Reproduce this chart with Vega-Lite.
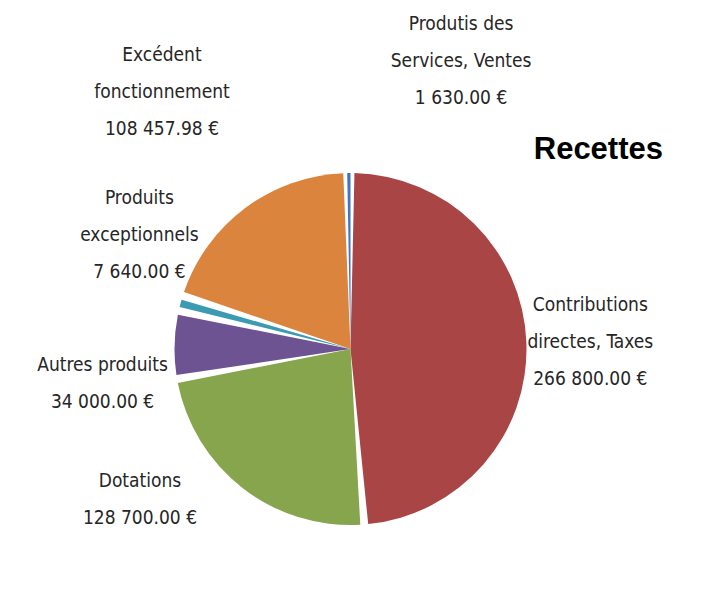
{
  "$schema": "https://vega.github.io/schema/vega-lite/v6.json",
  "autosize": {"type": "none"},
  "width": 691,
  "height": 498,
  "padding": {"left": 5, "top": 100, "right": 20, "bottom": 5},
  "background": "white",
  "title": {
    "text": "Recettes",
    "anchor": "end",
    "frame": "group",
    "orient": "top",
    "font": "Liberation Sans",
    "fontSize": 31,
    "fontWeight": "bold",
    "color": "#000000",
    "baseline": "alphabetic",
    "offset": 4,
    "dx": -33,
    "dy": 200
  },
  "config": {
    "view": {"stroke": null},
    "text": {
      "font": "Liberation Sans Narrow, DejaVu Sans Condensed, sans-serif",
      "fontSize": 19,
      "lineHeight": 37,
      "color": "#262626",
      "align": "center",
      "baseline": "middle",
      "lineBreak": "\n"
    }
  },
  "data": {
    "values": [
      {"rang": 1, "poste": "Contributions directes, Taxes", "montant": 266800, "libelle": "Contributions\ndirectes, Taxes\n266 800.00 €"},
      {"rang": 2, "poste": "Dotations", "montant": 128700, "libelle": "Dotations\n128 700.00 €"},
      {"rang": 3, "poste": "Autres produits", "montant": 34000, "libelle": "Autres produits\n34 000.00 €"},
      {"rang": 4, "poste": "Produits exceptionnels", "montant": 7640, "libelle": "Produits\nexceptionnels\n7 640.00 €"},
      {"rang": 5, "poste": "Excédent fonctionnement", "montant": 108457.98, "libelle": "Excédent\nfonctionnement\n108 457.98 €"},
      {"rang": 6, "poste": "Produtis des Services, Ventes", "montant": 1630, "libelle": "Produtis  des\nServices, Ventes\n1 630.00 €"}
    ]
  },
  "encoding": {
    "theta": {"field": "montant", "type": "quantitative", "stack": true},
    "order": {"field": "rang", "type": "quantitative"}
  },
  "layer": [
    {
      "mark": {"type": "arc", "radius": 176, "padAngle": 0.045},
      "encoding": {
        "color": {
          "field": "poste",
          "type": "nominal",
          "legend": null,
          "scale": {
            "domain": ["Contributions directes, Taxes", "Dotations", "Autres produits", "Produits exceptionnels", "Excédent fonctionnement", "Produtis des Services, Ventes"],
            "range": ["#A94544", "#87A54C", "#6E5393", "#3B9BB2", "#DB843D", "#4473C0"]
          }
        }
      }
    },
    {
      "mark": {"type": "arc", "radius": 176},
      "encoding": {
        "color": {"field": "poste", "type": "nominal", "legend": null},
        "opacity": {"condition": {"test": "datum.rang === 6", "value": 1}, "value": 0}
      }
    },
    {
      "mark": {"type": "text", "radius": 260, "dx": -20, "dy": -34},
      "encoding": {"text": {"condition": {"test": "datum.rang === 1", "field": "libelle"}, "value": ""}}
    },
    {
      "mark": {"type": "text", "radius": 260, "dx": -51, "dy": -73},
      "encoding": {"text": {"condition": {"test": "datum.rang === 2", "field": "libelle"}, "value": ""}}
    },
    {
      "mark": {"type": "text", "radius": 260, "dx": 12, "dy": 22},
      "encoding": {"text": {"condition": {"test": "datum.rang === 3", "field": "libelle"}, "value": ""}}
    },
    {
      "mark": {"type": "text", "radius": 260, "dx": 40, "dy": -83},
      "encoding": {"text": {"condition": {"test": "datum.rang === 4", "field": "libelle"}, "value": ""}}
    },
    {
      "mark": {"type": "text", "radius": 260, "dx": -33, "dy": -86},
      "encoding": {"text": {"condition": {"test": "datum.rang === 5", "field": "libelle"}, "value": ""}}
    },
    {
      "mark": {"type": "text", "radius": 260, "dx": 113, "dy": -65},
      "encoding": {"text": {"condition": {"test": "datum.rang === 6", "field": "libelle"}, "value": ""}}
    }
  ]
}
